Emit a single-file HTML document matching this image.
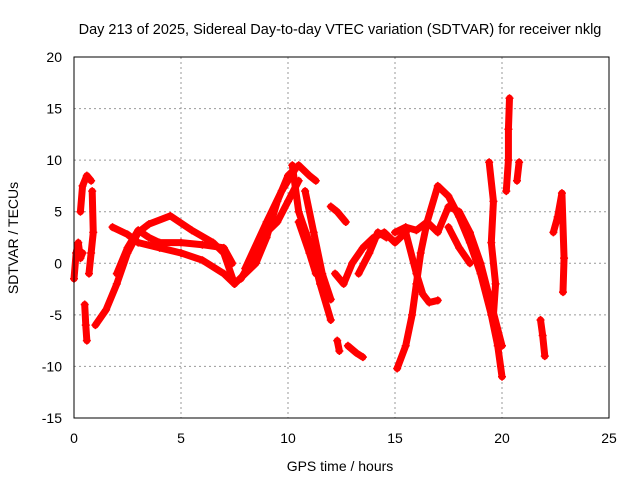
<!DOCTYPE html>
<html><head><meta charset="utf-8"><style>
body{margin:0;background:#fff}
svg{display:block;font-family:"Liberation Sans",sans-serif}
</style></head><body>
<svg id="chart" width="640" height="480">
<text x="340" y="34" font-size="14.5" text-anchor="middle">Day 213 of 2025, Sidereal Day-to-day VTEC variation (SDTVAR) for receiver nklg</text>
<g id="grid"></g><g id="ticks"></g><g id="marks"></g>
<rect x="74" y="57" width="535" height="361" fill="none" stroke="#000" stroke-width="1"/>
<text x="340" y="471" font-size="14" text-anchor="middle">GPS time / hours</text>
<text transform="translate(18,238) rotate(-90)" font-size="14" text-anchor="middle">SDTVAR / TECUs</text>
</svg>
<script>
const xTicks=[0,5,10,15,20,25];
const yTicks=[-15,-10,-5,0,5,10,15,20];
const track1=[[0,-1.5],[0.1,1],[0.2,2],[0.3,0.5],[0.4,1]];
const track2=[[0.3,5],[0.4,7.5],[0.6,8.5],[0.8,8]];
const track3=[[0.85,7],[0.9,3],[0.8,1],[0.7,-1]];
const track4=[[0.5,-4],[0.55,-6],[0.6,-7.5]];
const track5=[[1.0,-6],[1.5,-4.5],[2,-2],[2.5,1],[3,3],[3.5,3.8],[4.5,4.6],[5.5,3.2],[6.5,2],[7,1],[7.5,-2]];
const track6=[[1.8,3.5],[2.5,2.8],[3,2],[4,1.5],[5,1],[6,0.3],[7,-1],[7.5,-2]];
const track7=[[2,-1],[2.5,1.5],[3,3.2],[3.5,2.5],[4,2],[5,2],[6,1.8],[7,1.5],[7.4,0]];
const track8=[[7.5,-2],[8,-1],[8.5,0],[9,2.5],[9.5,6],[10,8.5],[10.5,9.5],[11,8.5],[11.3,8]];
const track9=[[7.8,-1.5],[8.5,1],[9,3],[9.5,4],[10,6],[10.5,8]];
const track10=[[8,-0.5],[9,4],[9.7,7],[10.3,9]];
const track11=[[10.2,9.5],[10.5,5],[11,2],[11.5,-2],[12,-5.5]];
const track12=[[10.8,7],[11.2,3],[11.6,-1],[12,-3.5]];
const track13=[[10.5,4],[11,1],[11.3,-1]];
const track14=[[12.3,-7.5],[12.4,-8.5]];
const track15=[[12.8,-8],[13.2,-8.7],[13.5,-9.1]];
const track16=[[12,5.5],[12.3,5],[12.7,4]];
const track17=[[12.2,-1],[12.6,-2],[13,0],[13.5,1.5],[14,2.5],[14.5,3],[15,2],[15.5,3]];
const track18=[[13.3,-1],[13.8,1],[14.2,3],[14.6,2.5]];
const track19=[[15.1,-10.2],[15.5,-8],[15.8,-5],[16,-2],[16.2,1],[16.5,4],[17,7.5],[17.5,6.5],[18,4.5],[18.5,2],[19,-1],[19.5,-5],[19.8,-8],[20,-11]];
const track20=[[15.5,3],[16,-1],[16.3,-3],[16.6,-3.8],[17,-3.6]];
const track21=[[15,3],[15.5,3.5],[16,3.2],[16.5,4],[17,3],[17.5,5.5],[18,5],[18.5,3],[19,0],[19.5,-4],[20,-8]];
const track22=[[17.5,3.5],[18,1.5],[18.5,0]];
const track23=[[19.4,9.8],[19.6,6],[19.5,2],[19.7,-2],[19.6,-5],[19.8,-7]];
const track24=[[20.2,7],[20.3,10],[20.3,13],[20.35,16]];
const track25=[[20.7,8],[20.8,9.8]];
const track26=[[21.8,-5.5],[21.9,-7],[22,-9]];
const track27=[[22.4,3],[22.6,4.5],[22.8,6.8],[22.9,0.5],[22.85,-2.8]];
const tracks=[track1,track2,track3,track4,track5,track6,track7,track8,track9,track10,track11,track12,track13,track14,track15,track16,track17,track18,track19,track20,track21,track22,track23,track24,track25,track26,track27];
const NS="http://www.w3.org/2000/svg";
const X=v=>74+v*(535/25), Y=v=>418-(v+15)*(361/35);
const grid=document.getElementById('grid'),tk=document.getElementById('ticks'),mk=document.getElementById('marks');
function mkEl(t,a){const e=document.createElementNS(NS,t);for(const k in a)e.setAttribute(k,a[k]);return e;}
xTicks.forEach(v=>{
 if(v>0&&v<25){const g=mkEl('line',{x1:X(v),x2:X(v),y1:57,y2:418,stroke:'#999','stroke-dasharray':'2,3'});
 
 grid.appendChild(g);}
 const t=mkEl('text',{x:X(v),y:443,'font-size':14,'text-anchor':'middle'});t.textContent=v;
 
 tk.appendChild(t);
});
yTicks.forEach(v=>{
 if(v>-15&&v<20){const g=mkEl('line',{x1:74,x2:609,y1:Y(v),y2:Y(v),stroke:'#999','stroke-dasharray':'2,3'});
 
 grid.appendChild(g);}
 const t=mkEl('text',{x:62,y:Y(v)+5,'font-size':14,'text-anchor':'end'});t.textContent=v;
 
 tk.appendChild(t);
});
tracks.forEach(tr=>{
 const p=mkEl('polyline',{points:tr.map(d=>X(d[0])+','+Y(d[1])).join(' '),fill:'none',stroke:'#f00','stroke-width':7,'stroke-linejoin':'round','stroke-linecap':'round'});
 
 mk.appendChild(p);
 tr.forEach(d=>{const m=mkEl('path',{d:`M${X(d[0])-4},${Y(d[1])}h8M${X(d[0])},${Y(d[1])-4}v8`,stroke:'#f00','stroke-width':1.5});
 
 mk.appendChild(m);});
});
</script>
</body></html>
